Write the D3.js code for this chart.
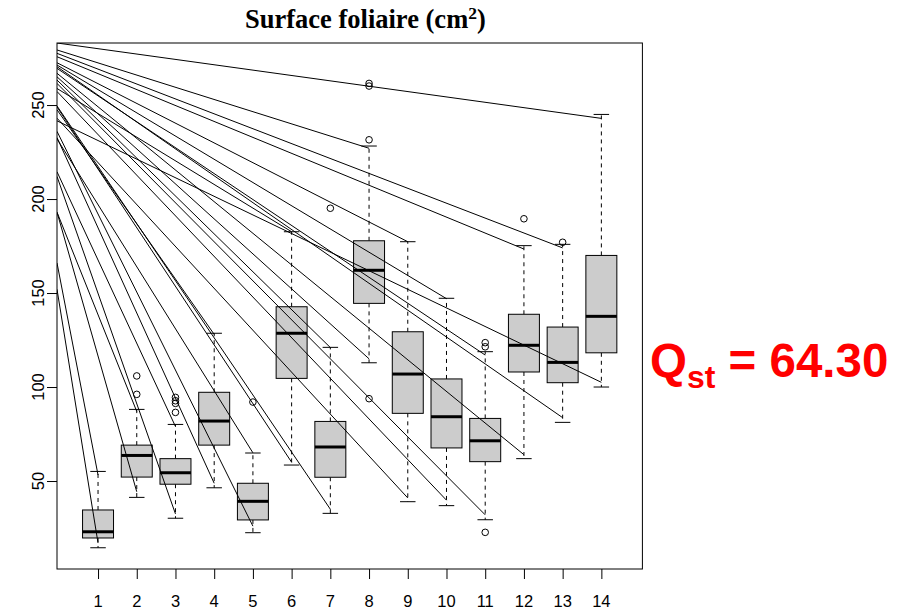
<!DOCTYPE html>
<html>
<head>
<meta charset="utf-8">
<script src="https://cdn.jsdelivr.net/npm/d3@7"></script>
<style>
  html, body { margin: 0; padding: 0; background: #ffffff; }
  svg { display: block; }
</style>
</head>
<body>
<svg id="chart" width="907" height="612"></svg>
<script>
// ---------------- DATA ----------------
const groups      = [1, 2, 3, 4, 5, 6, 7, 8, 9, 10, 11, 12, 13, 14];
const whiskerLow  = [14.5, 41.3, 30.2, 46.4, 22.5, 58.5, 32.8, 112.9, 39.0, 36.9, 29.4, 61.9, 81.2, 100.0];
const q1          = [19.7, 52.1, 48.3, 69.1, 29.3, 104.6, 52.0, 144.5, 86.0, 67.6, 60.3, 108.0, 102.3, 118.2];
const medians     = [23.0, 63.6, 54.4, 81.9, 39.2, 128.6, 68.1, 162.1, 106.9, 84.2, 71.4, 122.2, 113.1, 137.6];
const q3          = [34.6, 69.1, 61.9, 97.2, 48.8, 142.7, 81.7, 177.8, 129.4, 104.3, 83.3, 138.7, 131.9, 170.0];
const whiskerHigh = [55.1, 88.1, 80.1, 128.6, 64.9, 182.6, 121.1, 228.2, 177.3, 147.2, 118.8, 175.2, 175.9, 245.0];
const outlierGroup = [2, 2, 3, 3, 3, 3, 5, 7, 8, 8, 8, 8, 11, 11, 11, 12, 13];
const outlierValue = [96.1, 105.9, 86.5, 91.3, 92.7, 94.5, 92.0, 195.1, 93.8, 231.5, 260.1, 261.5, 22.7, 121.4, 123.6, 189.5, 177.0];

// segments drawn from the left edge of the plot to each group
const lineGroup = [1, 1, 2, 2, 3, 3, 4, 4, 5, 5, 6, 6, 7, 7, 8, 8, 9, 9, 10, 10, 11, 11, 12, 12, 13, 13, 14, 14];
const lineStart = [152, 166, 193, 193, 212, 214.5, 232.7, 247.5, 236, 232, 249, 258.8, 249.5, 263.3, 265, 279.3, 243, 272.5, 257.2, 271.3, 261.5, 269.5, 266.9, 275.7, 270.4, 277.5, 241.6, 283];
const lineEnd   = [17.0, 53.2, 44.3, 87.0, 32.5, 79.0, 48.8, 128.0, 26.0, 65.0, 60.0, 182.6, 35.0, 121.0, 115.0, 227.0, 41.0, 177.3, 39.8, 147.0, 32.0, 117.0, 64.0, 173.4, 83.7, 174.0, 102.5, 242.9];

const yTicks = [50, 100, 150, 200, 250];
const xTickLabels = ["1","2","3","4","5","6","7","8","9","10","11","12","13","14"];
const titleMain = "Surface foliaire (cm";
const titleSup = "2";
const qstLabel = "Q";
const qstSub = "st";
const qstValue = " = 64.30";

// ---------------- LAYOUT ----------------
const plot = { left: 57, right: 642.4, top: 43, bottom: 569 };
const svg = d3.select("#chart");
svg.append("rect").attr("width", 907).attr("height", 612).attr("fill", "#ffffff");

const x = d3.scaleLinear().domain([-0.06, 15.06]).range([plot.left, plot.right]);
const y = d3.scaleLinear().domain([3.2, 283]).range([plot.bottom, plot.top]);

const boxHalf = (x(1.4) - x(1)) ;     // half width of box (0.8 units total)
const capHalf = (x(1.2) - x(1));      // half width of whisker caps

const defs = svg.append("defs");
defs.append("clipPath").attr("id", "plotclip")
  .append("rect").attr("x", plot.left).attr("y", plot.top)
  .attr("width", plot.right - plot.left).attr("height", plot.bottom - plot.top);

const g = svg.append("g");

// boxes
groups.forEach((grp, i) => {
  const cx = x(grp);
  // whiskers (dashed)
  g.append("line").attr("x1", cx).attr("x2", cx)
    .attr("y1", y(q3[i])).attr("y2", y(whiskerHigh[i]))
    .attr("stroke", "#000").attr("stroke-width", 1).attr("stroke-dasharray", "4,4");
  g.append("line").attr("x1", cx).attr("x2", cx)
    .attr("y1", y(q1[i])).attr("y2", y(whiskerLow[i]))
    .attr("stroke", "#000").attr("stroke-width", 1).attr("stroke-dasharray", "4,4");
  // caps
  [whiskerHigh[i], whiskerLow[i]].forEach(v => {
    g.append("line").attr("x1", cx - capHalf).attr("x2", cx + capHalf)
      .attr("y1", y(v)).attr("y2", y(v))
      .attr("stroke", "#000").attr("stroke-width", 1);
  });
  // box
  g.append("rect").attr("x", cx - boxHalf).attr("width", 2 * boxHalf)
    .attr("y", y(q3[i])).attr("height", y(q1[i]) - y(q3[i]))
    .attr("fill", "#cccccc").attr("stroke", "#000").attr("stroke-width", 1);
  // median
  g.append("line").attr("x1", cx - boxHalf).attr("x2", cx + boxHalf)
    .attr("y1", y(medians[i])).attr("y2", y(medians[i]))
    .attr("stroke", "#000").attr("stroke-width", 3);
});

// outliers
outlierGroup.forEach((grp, i) => {
  g.append("circle").attr("cx", x(grp)).attr("cy", y(outlierValue[i])).attr("r", 3.3)
    .attr("fill", "none").attr("stroke", "#000").attr("stroke-width", 1);
});

// segments from the left edge
const lg = svg.append("g").attr("clip-path", "url(#plotclip)");
lineGroup.forEach((grp, i) => {
  lg.append("line")
    .attr("x1", x(x.domain()[0])).attr("y1", y(lineStart[i]))
    .attr("x2", x(grp)).attr("y2", y(lineEnd[i]))
    .attr("stroke", "#000").attr("stroke-width", 1);
});

// frame
svg.append("rect").attr("x", plot.left).attr("y", plot.top)
  .attr("width", plot.right - plot.left).attr("height", plot.bottom - plot.top)
  .attr("fill", "none").attr("stroke", "#000").attr("stroke-width", 1);

// y axis
const yAxis = d3.axisLeft(y).tickValues(yTicks).tickSize(10).tickPadding(4);
const ya = svg.append("g").attr("transform", `translate(${plot.left},0)`).call(yAxis);
ya.select(".domain").remove();
ya.selectAll("text").remove();
yTicks.forEach(t => {
  svg.append("text")
    .attr("transform", `translate(43.5,${y(t)}) rotate(-90)`)
    .attr("text-anchor", "middle")
    .attr("font-family", "Liberation Sans, Arial, sans-serif")
    .attr("font-size", 16.5).attr("fill", "#000")
    .text(t);
});

// x axis
const xAxis = d3.axisBottom(x).tickValues(groups).tickSize(10).tickFormat((d, i) => xTickLabels[i]);
const xa = svg.append("g").attr("transform", `translate(0,${plot.bottom})`).call(xAxis);
xa.select(".domain").remove();
xa.selectAll("text").remove();
groups.forEach((grp, i) => {
  svg.append("text").attr("x", x(grp)).attr("y", 606.5)
    .attr("text-anchor", "middle")
    .attr("font-family", "Liberation Sans, Arial, sans-serif")
    .attr("font-size", 16.5).attr("fill", "#000")
    .text(xTickLabels[i]);
});
svg.selectAll(".tick line").attr("stroke", "#000");

// title
const title = svg.append("text").attr("x", 245).attr("y", 28)
  .attr("font-family", "Liberation Serif, Times New Roman, serif")
  .attr("font-weight", "bold").attr("font-size", 26.5).attr("fill", "#000");
title.append("tspan").text(titleMain);
title.append("tspan").attr("dy", -9).attr("font-size", 17.5).text(titleSup);
title.append("tspan").attr("dy", 9).text(")");

// Qst annotation
const q = svg.append("text").attr("x", 650).attr("y", 377)
  .attr("font-family", "Liberation Sans, Arial, sans-serif")
  .attr("font-weight", "bold").attr("font-size", 47.5).attr("fill", "#ff0000");
q.append("tspan").text(qstLabel);
q.append("tspan").attr("dy", 11).attr("font-size", 32).text(qstSub);
q.append("tspan").attr("dy", -11).text(qstValue);
</script>
</body>
</html>
